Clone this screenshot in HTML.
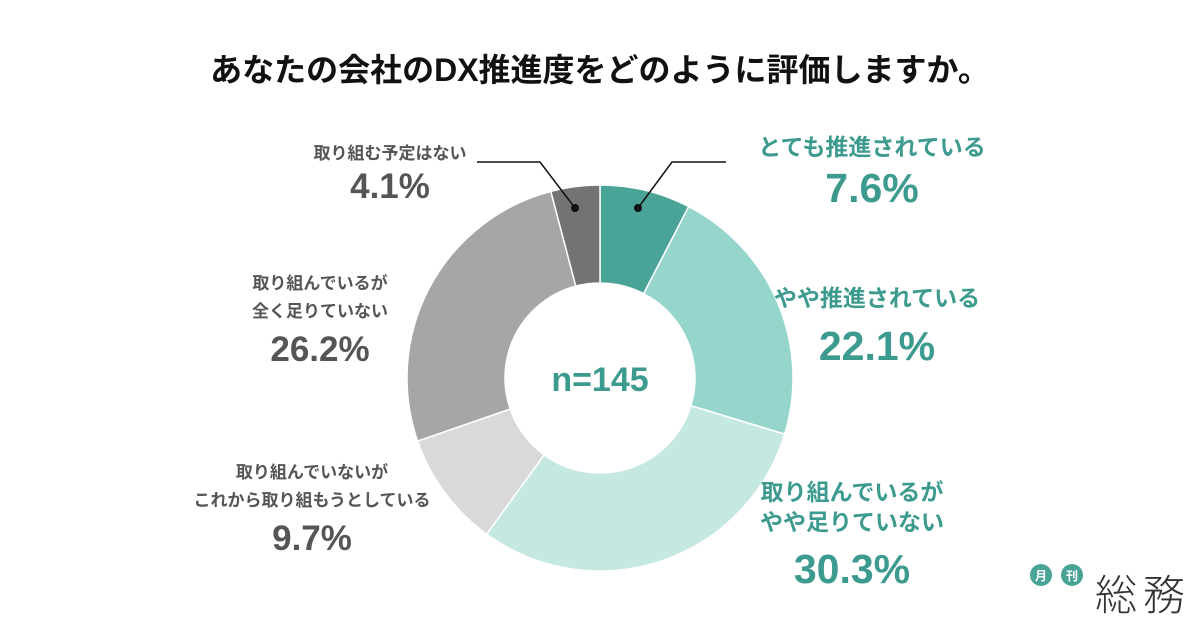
<!DOCTYPE html>
<html><head><meta charset="utf-8"><style>
body{margin:0;background:#fff;}
svg{display:block;font-family:"Liberation Sans","Noto Sans CJK JP",sans-serif;}
</style></head><body>
<svg width="1200" height="630" viewBox="0 0 1200 630">
<text x="600" y="81" text-anchor="middle" font-size="32" font-weight="bold" fill="#111">あなたの会社のDX推進度をどのように評価しますか。</text>
<g id="slices"></g>
<circle cx="600" cy="378" r="95" fill="#fff"/>
<text x="600" y="391" text-anchor="middle" font-size="34" font-weight="bold" fill="#3c9a8e">n=145</text>
<g id="labels"></g>
<polyline points="477,162 540,162 575,208" fill="none" stroke="#111" stroke-width="1.5"/>
<circle cx="575" cy="208" r="4" fill="#111"/>
<polyline points="726,162 672,162 638,208" fill="none" stroke="#111" stroke-width="1.5"/>
<circle cx="638" cy="208" r="4" fill="#111"/>
<g>
<circle cx="1041" cy="575" r="11" fill="#4aa397"/><text x="1041" y="580" text-anchor="middle" font-size="12" font-weight="bold" fill="#fff">月</text>
<circle cx="1072" cy="575" r="11" fill="#4aa397"/><text x="1072" y="580" text-anchor="middle" font-size="12" font-weight="bold" fill="#fff">刊</text>
<text x="1095" y="610" font-size="42" fill="#333" textLength="90" font-family="Noto Sans CJK JP,sans-serif" font-weight="300">総務</text>
</g>
</svg>
<script>
const categories=["とても推進されている","やや推進されている","取り組んでいるがやや足りていない","取り組んでいないがこれから取り組もうとしている","取り組んでいるが全く足りていない","取り組む予定はない"];
const values=[7.6,22.1,30.3,9.7,26.2,4.1];
const valueLabels=["7.6%","22.1%","30.3%","9.7%","26.2%","4.1%"];
const colors=["#4aa397","#96d5cb","#c6e8e3","#d9d9d9","#a6a6a6","#737373"];
const NS="http://www.w3.org/2000/svg";
const cx=600,cy=378,R=193,r0=95;
const total=values.reduce((a,b)=>a+b,0);
function pt(a,rad){return [cx+rad*Math.sin(a),cy-rad*Math.cos(a)];}
let acc=0;
const g=document.getElementById('slices');
values.forEach((v,i)=>{
  const a0=acc/total*2*Math.PI; acc+=v; const a1=acc/total*2*Math.PI;
  const [x0,y0]=pt(a0,R),[x1,y1]=pt(a1,R),[x2,y2]=pt(a1,r0),[x3,y3]=pt(a0,r0);
  const large=(a1-a0)>Math.PI?1:0;
  const p=document.createElementNS(NS,'path');
  p.setAttribute('d',`M${x0},${y0}A${R},${R} 0 ${large} 1 ${x1},${y1}L${x2},${y2}A${r0},${r0} 0 ${large} 0 ${x3},${y3}Z`);
  p.setAttribute('fill',colors[i]);p.setAttribute('stroke','#fff');p.setAttribute('stroke-width','1.5');
  
  
  g.appendChild(p);
});
const lab=[
 {x:872,y:[155],vy:202,c:"#3c9a8e",lines:["とても推進されている"]},
 {x:877,y:[306],vy:360,c:"#3c9a8e",lines:["やや推進されている"]},
 {x:852,y:[500,530],vy:583,c:"#3c9a8e",lines:["取り組んでいるが","やや足りていない"]},
 {x:312,y:[478,506],vy:550,c:"#555",lines:["取り組んでいないが","これから取り組もうとしている"]},
 {x:320,y:[289,317],vy:361,c:"#555",lines:["取り組んでいるが","全く足りていない"]},
 {x:390,y:[159],vy:198,c:"#555",lines:["取り組む予定はない"]}
];
const lg=document.getElementById('labels');
lab.forEach((l,i)=>{
  const teal=i<3;
  l.lines.forEach((s,j)=>{
    const t=document.createElementNS(NS,'text');
    t.setAttribute('x',l.x);t.setAttribute('y',l.y[j]);t.setAttribute('text-anchor','middle');
    t.setAttribute('font-size',teal?23:17);t.setAttribute('font-weight','bold');t.setAttribute('fill',l.c);
    t.textContent=s;
    
    
    lg.appendChild(t);
  });
  const t=document.createElementNS(NS,'text');
  t.setAttribute('x',l.x);t.setAttribute('y',l.vy);t.setAttribute('text-anchor','middle');
  t.setAttribute('font-size',teal?41:35);t.setAttribute('font-weight','bold');t.setAttribute('fill',l.c);
  t.textContent=valueLabels[i];
  
  
  lg.appendChild(t);
});
</script>
</body></html>
